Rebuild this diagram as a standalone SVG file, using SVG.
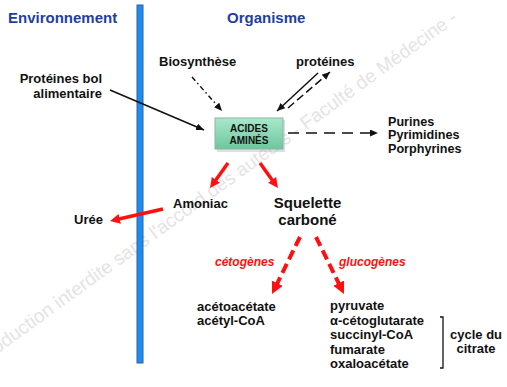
<svg xmlns="http://www.w3.org/2000/svg" width="507" height="387" viewBox="0 0 507 387">
<defs>
<style>
text{font-family:"Liberation Sans",Arial,sans-serif;font-weight:bold;fill:#111;}
.hdr{font-size:15px;fill:#1f3f9f;}
.lbl{font-size:13px;}
.pur{font-size:12.6px;}
.big{font-size:15px;}
.box{font-size:10px;}
.it{font-size:12px;font-style:italic;fill:#ff1010;}
.wm{font-weight:normal;font-size:19px;fill:#e6e3e3;}
.blk{stroke:#111;stroke-width:1.5;fill:none;}
.red{stroke:#ff1010;stroke-width:3.5;fill:none;}
.redd{stroke:#ff1010;stroke-width:4;fill:none;stroke-dasharray:10 5;}
</style>
<linearGradient id="gbox" x1="0" y1="0" x2="0" y2="1">
<stop offset="0" stop-color="#a9e8cb"/>
<stop offset="1" stop-color="#6dc79d"/>
</linearGradient>
<marker id="ab" markerUnits="userSpaceOnUse" markerWidth="10" markerHeight="8" refX="8" refY="3.5" orient="auto">
<path d="M0,0 L8,3.5 L0,7 z" fill="#111"/>
</marker>
<marker id="ar" markerUnits="userSpaceOnUse" markerWidth="12" markerHeight="11" refX="1" refY="5" orient="auto">
<path d="M0,0 L10,5 L0,10 z" fill="#ff1010"/>
</marker>
<marker id="ard" markerUnits="userSpaceOnUse" markerWidth="14" markerHeight="13" refX="1" refY="6" orient="auto">
<path d="M0,0 L12,6 L0,12 z" fill="#ff1010"/>
</marker>
</defs>

<text class="wm" transform="translate(0,352) rotate(-35.9)" x="-45" y="0">Reproduction interdite sans l'accord des auteurs - Faculté de Médecine -</text>

<g id="barrier">
<rect x="137" y="5" width="6" height="358" fill="#1a8cf5" stroke="#3d5f8f" stroke-width="1"/>
</g>

<g id="headers">
<text class="hdr" x="8" y="23">Environnement</text>
<text class="hdr" x="227" y="23">Organisme</text>
</g>

<g id="connectors">
<line class="blk" x1="110" y1="90" x2="204" y2="130" marker-end="url(#ab)"/>
<line class="blk" x1="192" y1="77" x2="222" y2="111" stroke-dasharray="5 3 1.5 3" marker-end="url(#ab)"/>
<line class="blk" x1="318" y1="73" x2="277" y2="111" marker-end="url(#ab)"/>
<line class="blk" x1="288" y1="108" x2="330" y2="72" stroke-dasharray="8 4" marker-end="url(#ab)"/>
<line class="blk" x1="288" y1="133" x2="378" y2="133" stroke-dasharray="11 7" marker-end="url(#ab)"/>
<line class="red" x1="228" y1="163" x2="215.3" y2="180.7" marker-end="url(#ar)"/>
<line class="red" x1="260" y1="163" x2="272.7" y2="180.7" marker-end="url(#ar)"/>
<line class="red" x1="163" y1="209" x2="118.8" y2="219" marker-end="url(#ar)"/>
<line class="redd" x1="300" y1="237" x2="276.9" y2="284.1" marker-end="url(#ard)"/>
<line class="redd" x1="316" y1="237" x2="339.1" y2="284.1" marker-end="url(#ard)"/>
</g>

<g id="acides-amines">
<rect x="217" y="120" width="68" height="32" fill="#9aa" opacity="0.35"/>
<rect x="215" y="118" width="68" height="31" fill="url(#gbox)" stroke="#8fb3a3" stroke-width="1"/>
<text class="box" x="249" y="132" text-anchor="middle">ACIDES</text>
<text class="box" x="249" y="144" text-anchor="middle">AMINÉS</text>
</g>

<g id="proteines-bol">
<text class="lbl" x="102" y="83" text-anchor="end">Protéines bol</text>
<text class="lbl" x="102" y="98" text-anchor="end">alimentaire</text>
</g>

<g id="biosynthese">
<text class="lbl" x="159" y="66">Biosynthèse</text>
</g>

<g id="proteines">
<text class="lbl" x="296" y="66">protéines</text>
</g>

<g id="purines">
<text class="lbl pur" x="388" y="125.5">Purines</text>
<text class="lbl pur" x="388" y="139">Pyrimidines</text>
<text class="lbl pur" x="388" y="152.5">Porphyrines</text>
</g>

<g id="amoniac">
<text class="lbl" x="173" y="208">Amoniac</text>
</g>

<g id="uree">
<text class="lbl" x="74" y="224">Urée</text>
</g>

<g id="squelette">
<text class="big" x="307.5" y="208" text-anchor="middle">Squelette</text>
<text class="big" x="307.5" y="225" text-anchor="middle">carboné</text>
</g>

<g id="labels-red">
<text class="it" x="215" y="266">cétogènes</text>
<text class="it" x="339" y="266">glucogènes</text>
</g>

<g id="cetogenes-products">
<text class="lbl" x="197" y="311">acétoacétate</text>
<text class="lbl" x="197" y="325">acétyl-CoA</text>
</g>

<g id="glucogenes-products">
<text class="lbl" x="330" y="310">pyruvate</text>
<text class="lbl" x="330" y="324.5">α-cétoglutarate</text>
<text class="lbl" x="330" y="339">succinyl-CoA</text>
<text class="lbl" x="330" y="353.5">fumarate</text>
<text class="lbl" x="330" y="368">oxaloacétate</text>
</g>

<g id="cycle-du-citrate">
<path d="M440,317 H443 V368 H440" fill="none" stroke="#111" stroke-width="1.3"/>
<text class="lbl" x="476" y="339" text-anchor="middle">cycle du</text>
<text class="lbl" x="476" y="353" text-anchor="middle">citrate</text>
</g>
</svg>
